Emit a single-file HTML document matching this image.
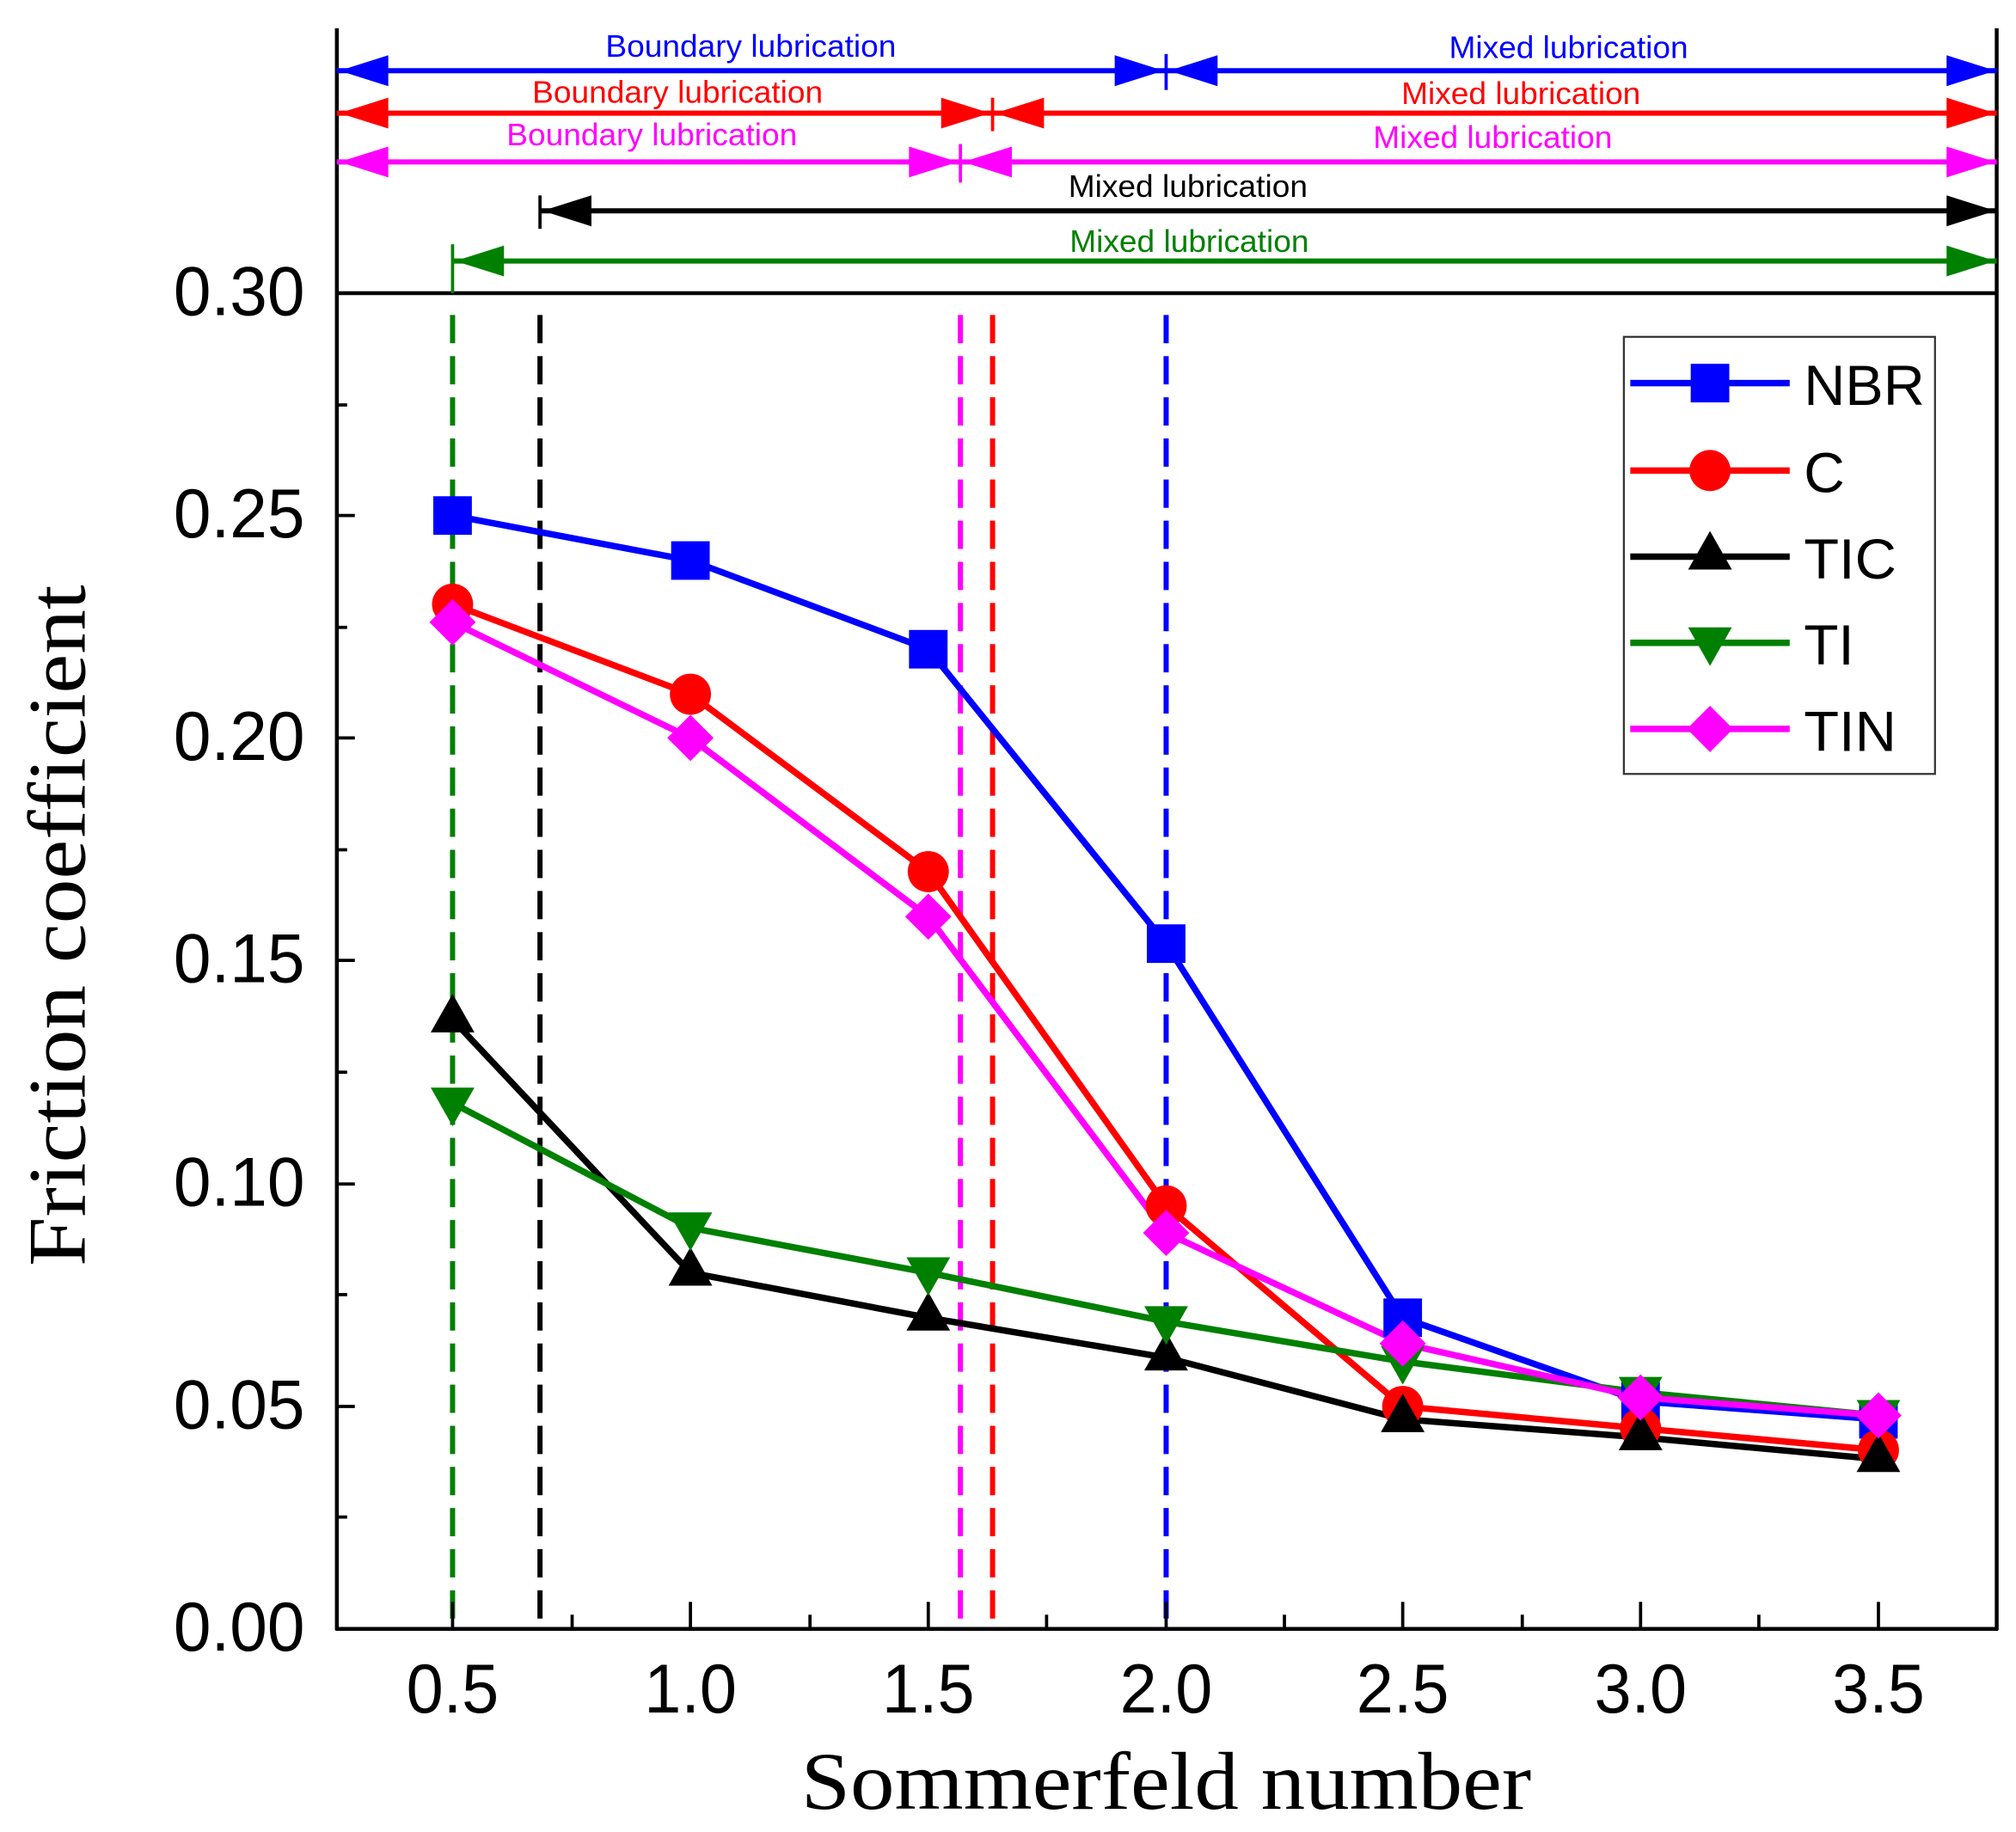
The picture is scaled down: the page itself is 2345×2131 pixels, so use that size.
<!DOCTYPE html>
<html><head><meta charset="utf-8"><style>html,body{margin:0;padding:0;background:#fff}svg{display:block}</style></head>
<body>
<svg width="2345" height="2131" viewBox="0 0 1568 1425" preserveAspectRatio="none" xmlns="http://www.w3.org/2000/svg">
<defs>
<rect id="sq" x="-15" y="-15" width="30" height="30"/>
<circle id="ci" r="16"/>
<polygon id="tu" points="0,-20 17,10 -17,10"/>
<polygon id="td" points="0,18 17,-12 -17,-12"/>
<polygon id="dm" points="0,-18 18,0 0,18 -18,0"/>
</defs>
<rect width="1568" height="1425" fill="#fff"/>
<g stroke-width="4" stroke-dasharray="22,10" fill="none">
<line x1="352" y1="245" x2="352" y2="1267" stroke="#008000"/>
<line x1="420" y1="245" x2="420" y2="1267" stroke="#000"/>
<line x1="747" y1="245" x2="747" y2="1267" stroke="#ff00ff"/>
<line x1="772" y1="245" x2="772" y2="1267" stroke="#ff0000"/>
<line x1="907" y1="245" x2="907" y2="1267" stroke="#0000ff"/>
</g>
<g stroke="#000" stroke-width="3" fill="none">
<line x1="262" y1="22" x2="262" y2="1268"/>
<line x1="1553" y1="22" x2="1553" y2="1268"/>
<line x1="261" y1="1267" x2="1554" y2="1267"/>
<line x1="261" y1="228" x2="1554" y2="228"/>
</g>
<g stroke="#000" stroke-width="2.5">
<line x1="262" y1="1094" x2="276" y2="1094"/><line x1="262" y1="921" x2="276" y2="921"/><line x1="262" y1="747" x2="276" y2="747"/><line x1="262" y1="574" x2="276" y2="574"/><line x1="262" y1="401" x2="276" y2="401"/>
<line x1="262" y1="1180" x2="270" y2="1180"/><line x1="262" y1="1007" x2="270" y2="1007"/><line x1="262" y1="834" x2="270" y2="834"/><line x1="262" y1="661" x2="270" y2="661"/><line x1="262" y1="488" x2="270" y2="488"/><line x1="262" y1="315" x2="270" y2="315"/>
<line x1="352" y1="1267" x2="352" y2="1246"/><line x1="537" y1="1267" x2="537" y2="1246"/><line x1="722" y1="1267" x2="722" y2="1246"/><line x1="907" y1="1267" x2="907" y2="1246"/><line x1="1091" y1="1267" x2="1091" y2="1246"/><line x1="1276" y1="1267" x2="1276" y2="1246"/><line x1="1461" y1="1267" x2="1461" y2="1246"/>
<line x1="445" y1="1267" x2="445" y2="1256"/><line x1="630" y1="1267" x2="630" y2="1256"/><line x1="814" y1="1267" x2="814" y2="1256"/><line x1="999" y1="1267" x2="999" y2="1256"/><line x1="1184" y1="1267" x2="1184" y2="1256"/><line x1="1368" y1="1267" x2="1368" y2="1256"/>
</g>
<g font-family="Liberation Sans, Arial, sans-serif" font-size="54" fill="#000">
<g text-anchor="end">
<text x="237" y="245" textLength="102" lengthAdjust="spacingAndGlyphs">0.30</text><text x="237" y="418" textLength="102" lengthAdjust="spacingAndGlyphs">0.25</text><text x="237" y="591" textLength="102" lengthAdjust="spacingAndGlyphs">0.20</text><text x="237" y="764" textLength="102" lengthAdjust="spacingAndGlyphs">0.15</text><text x="237" y="938" textLength="102" lengthAdjust="spacingAndGlyphs">0.10</text><text x="237" y="1111" textLength="102" lengthAdjust="spacingAndGlyphs">0.05</text><text x="237" y="1284" textLength="102" lengthAdjust="spacingAndGlyphs">0.00</text>
</g>
<g text-anchor="middle">
<text x="352" y="1332" textLength="72" lengthAdjust="spacingAndGlyphs">0.5</text><text x="537" y="1332" textLength="72" lengthAdjust="spacingAndGlyphs">1.0</text><text x="722" y="1332" textLength="72" lengthAdjust="spacingAndGlyphs">1.5</text><text x="907" y="1332" textLength="72" lengthAdjust="spacingAndGlyphs">2.0</text><text x="1091" y="1332" textLength="72" lengthAdjust="spacingAndGlyphs">2.5</text><text x="1276" y="1332" textLength="72" lengthAdjust="spacingAndGlyphs">3.0</text><text x="1461" y="1332" textLength="72" lengthAdjust="spacingAndGlyphs">3.5</text>
</g>
</g>
<text x="907" y="1407" text-anchor="middle" font-family="Liberation Serif, serif" font-size="64" textLength="568" lengthAdjust="spacingAndGlyphs">Sommerfeld number</text>
<text transform="translate(66,720) rotate(-90)" text-anchor="middle" font-family="Liberation Serif, serif" font-size="64" textLength="530" lengthAdjust="spacingAndGlyphs">Friction coefficient</text>
<g stroke-width="4">
<line x1="262" y1="55" x2="1553" y2="55" stroke="#0000ff"/>
<line x1="262" y1="88" x2="1553" y2="88" stroke="#ff0000"/>
<line x1="262" y1="126" x2="1553" y2="126" stroke="#ff00ff"/>
<line x1="420" y1="164" x2="1553" y2="164" stroke="#000"/>
<line x1="352" y1="203" x2="1553" y2="203" stroke="#008000"/>
<line x1="907" y1="42" x2="907" y2="70" stroke="#0000ff" stroke-width="2.5"/>
<line x1="772" y1="76" x2="772" y2="102" stroke="#ff0000" stroke-width="2.5"/>
<line x1="747" y1="112" x2="747" y2="142" stroke="#ff00ff" stroke-width="2.5"/>
<line x1="420" y1="152" x2="420" y2="178" stroke="#000" stroke-width="2.5"/>
<line x1="352" y1="190" x2="352" y2="228" stroke="#008000" stroke-width="2.5"/>
</g>
<g fill="#0000ff"><polygon points="264,55 302,43 302,67"/><polygon points="905,55 867,43 867,67"/><polygon points="909,55 947,43 947,67"/><polygon points="1552,55 1514,43 1514,67"/></g>
<g fill="#ff0000"><polygon points="264,88 302,76 302,100"/><polygon points="770,88 732,76 732,100"/><polygon points="774,88 812,76 812,100"/><polygon points="1552,88 1514,76 1514,100"/></g>
<g fill="#ff00ff"><polygon points="264,126 302,114 302,138"/><polygon points="745,126 707,114 707,138"/><polygon points="749,126 787,114 787,138"/><polygon points="1552,126 1514,114 1514,138"/></g>
<g fill="#000"><polygon points="422,164 460,152 460,176"/><polygon points="1552,164 1514,152 1514,176"/></g>
<g fill="#008000"><polygon points="354,203 392,191 392,215"/><polygon points="1552,203 1514,191 1514,215"/></g>
<g font-family="Liberation Sans Narrow, Liberation Sans, Arial, sans-serif" font-size="24" text-anchor="middle">
<text x="584" y="44" fill="#0000ff" textLength="226" lengthAdjust="spacingAndGlyphs">Boundary lubrication</text>
<text x="1220" y="45" fill="#0000ff" textLength="186" lengthAdjust="spacingAndGlyphs">Mixed lubrication</text>
<text x="527" y="80" fill="#ff0000" textLength="226" lengthAdjust="spacingAndGlyphs">Boundary lubrication</text>
<text x="1183" y="81" fill="#ff0000" textLength="186" lengthAdjust="spacingAndGlyphs">Mixed lubrication</text>
<text x="507" y="113" fill="#ff00ff" textLength="226" lengthAdjust="spacingAndGlyphs">Boundary lubrication</text>
<text x="1161" y="115" fill="#ff00ff" textLength="186" lengthAdjust="spacingAndGlyphs">Mixed lubrication</text>
<text x="924" y="153" fill="#000" textLength="186" lengthAdjust="spacingAndGlyphs">Mixed lubrication</text>
<text x="925" y="196" fill="#008000" textLength="186" lengthAdjust="spacingAndGlyphs">Mixed lubrication</text>
</g>
<g fill="none" stroke-width="5" stroke-linejoin="round">
<polyline stroke="#0000ff" points="352,401 537,436 722,505 907,734 1091,1025 1276,1090 1461,1104"/>
<polyline stroke="#ff0000" points="352,470 537,540 722,678 907,938 1091,1094 1276,1111 1461,1128"/>
<polyline stroke="#000" points="352,793 537,990 722,1025 907,1056 1091,1104 1276,1118 1461,1135"/>
<polyline stroke="#008000" points="352,858 537,955 722,990 907,1028 1091,1059 1276,1083 1461,1101"/>
<polyline stroke="#ff00ff" points="352,484 537,574 722,713 907,959 1091,1045 1276,1087 1461,1101"/>
</g>
<g fill="#0000ff"><use href="#sq" x="352" y="401"/><use href="#sq" x="537" y="436"/><use href="#sq" x="722" y="505"/><use href="#sq" x="907" y="734"/><use href="#sq" x="1091" y="1025"/><use href="#sq" x="1276" y="1090"/><use href="#sq" x="1461" y="1104"/></g>
<g fill="#ff0000"><use href="#ci" x="352" y="470"/><use href="#ci" x="537" y="540"/><use href="#ci" x="722" y="678"/><use href="#ci" x="907" y="938"/><use href="#ci" x="1091" y="1094"/><use href="#ci" x="1276" y="1111"/><use href="#ci" x="1461" y="1128"/></g>
<g fill="#000"><use href="#tu" x="352" y="793"/><use href="#tu" x="537" y="990"/><use href="#tu" x="722" y="1025"/><use href="#tu" x="907" y="1056"/><use href="#tu" x="1091" y="1104"/><use href="#tu" x="1276" y="1118"/><use href="#tu" x="1461" y="1135"/></g>
<g fill="#008000"><use href="#td" x="352" y="858"/><use href="#td" x="537" y="955"/><use href="#td" x="722" y="990"/><use href="#td" x="907" y="1028"/><use href="#td" x="1091" y="1059"/><use href="#td" x="1276" y="1083"/><use href="#td" x="1461" y="1101"/></g>
<g fill="#ff00ff"><use href="#dm" x="352" y="484"/><use href="#dm" x="537" y="574"/><use href="#dm" x="722" y="713"/><use href="#dm" x="907" y="959"/><use href="#dm" x="1091" y="1045"/><use href="#dm" x="1276" y="1087"/><use href="#dm" x="1461" y="1101"/></g>
<rect x="1263" y="262" width="242" height="340" fill="#fff" stroke="#333" stroke-width="1.5"/>
<g stroke-width="5">
<line x1="1268" y1="298" x2="1392" y2="298" stroke="#0000ff"/>
<line x1="1268" y1="366" x2="1392" y2="366" stroke="#ff0000"/>
<line x1="1268" y1="433" x2="1392" y2="433" stroke="#000"/>
<line x1="1268" y1="500" x2="1392" y2="500" stroke="#008000"/>
<line x1="1268" y1="567" x2="1392" y2="567" stroke="#ff00ff"/>
</g>
<use href="#sq" x="1330" y="298" fill="#0000ff"/>
<use href="#ci" x="1330" y="366" fill="#ff0000"/>
<use href="#tu" x="1330" y="433" fill="#000"/>
<use href="#td" x="1330" y="500" fill="#008000"/>
<use href="#dm" x="1330" y="567" fill="#ff00ff"/>
<g font-family="Liberation Sans, Arial, sans-serif" font-size="44" fill="#000">
<text x="1403" y="315" textLength="94" lengthAdjust="spacingAndGlyphs">NBR</text><text x="1403" y="383">C</text><text x="1403" y="450" textLength="72" lengthAdjust="spacingAndGlyphs">TIC</text><text x="1403" y="517">TI</text><text x="1403" y="584" textLength="72" lengthAdjust="spacingAndGlyphs">TIN</text>
</g>
</svg>
</body></html>
